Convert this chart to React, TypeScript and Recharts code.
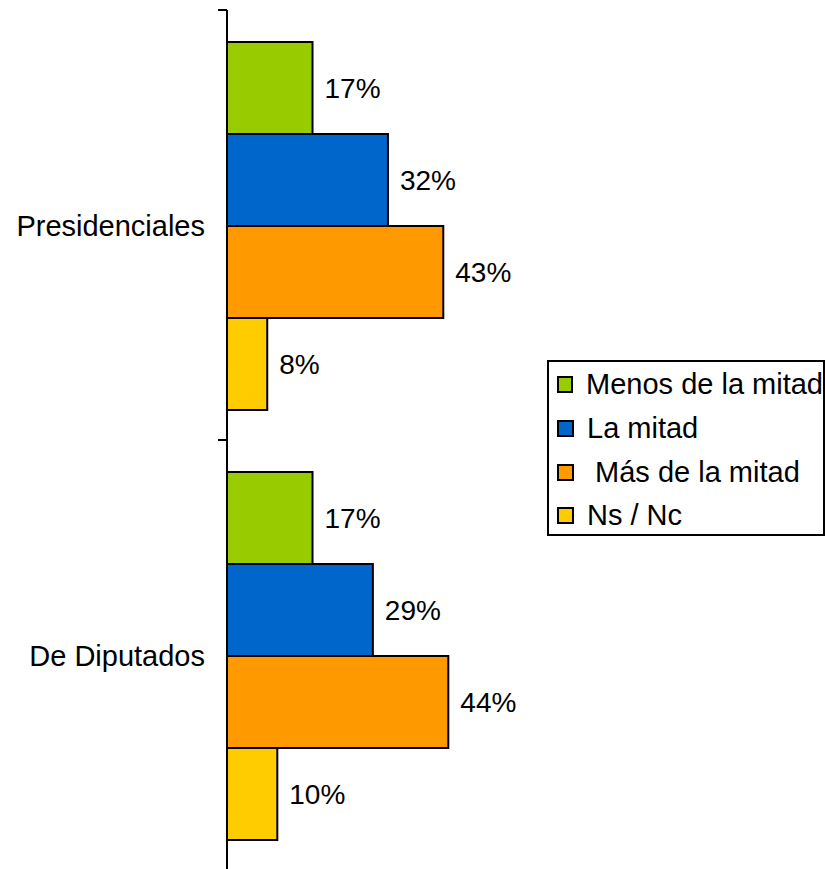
import React from 'react'
import { Bar, BarChart, LabelList, XAxis, YAxis } from 'recharts'

const categories = ['Presidenciales', 'De Diputados']
const menosDeLaMitad = [17, 17]
const laMitad = [32, 29]
const masDeLaMitad = [43, 44]
const nsNc = [8, 10]

const series = [
  { key: 'menos', name: 'Menos de la mitad', color: '#99CC00', values: menosDeLaMitad },
  { key: 'mitad', name: 'La mitad', color: '#0066CC', values: laMitad },
  { key: 'mas', name: ' Más de la mitad', color: '#FF9900', values: masDeLaMitad },
  { key: 'nsnc', name: 'Ns / Nc', color: '#FFCC00', values: nsNc },
]

const data = categories.map((name, i) => {
  const row: Record<string, string | number> = { name }
  series.forEach((s) => {
    row[s.key] = s.values[i]
  })
  return row
})

const FONT = '"Liberation Sans", Arial, sans-serif'
const TICK_MARGIN = 16
const TICK_SIZE = 6

const CategoryTick = (props: any) => {
  const { x, y, payload, index } = props
  const half = payload.offset || 0
  const axisX = x + TICK_MARGIN + TICK_SIZE
  return (
    <g>
      <text
        x={x}
        y={y + 1}
        textAnchor="end"
        dominantBaseline="central"
        fontSize={29}
        fontFamily={FONT}
        fill="#000"
      >
        {payload.value}
      </text>
      <line x1={axisX - 9} x2={axisX} y1={y - half} y2={y - half} stroke="#000" strokeWidth={2} />
      {index === categories.length - 1 && (
        <line x1={axisX - 9} x2={axisX} y1={y + half} y2={y + half} stroke="#000" strokeWidth={2} />
      )}
    </g>
  )
}

const LegendBox = () => (
  <div
    style={{
      position: 'absolute',
      left: 547,
      top: 360,
      width: 278,
      height: 176,
      border: '2px solid #000',
      background: '#fff',
      fontFamily: FONT,
      fontSize: 29,
      color: '#000',
      boxSizing: 'border-box',
      paddingTop: 1,
    }}
  >
    {series.map((s) => (
      <div
        key={s.key}
        style={{ display: 'flex', alignItems: 'center', height: 43.7, paddingLeft: 8, whiteSpace: 'pre' }}
      >
        <span
          style={{
            display: 'inline-block',
            width: 13,
            height: 13,
            background: s.color,
            border: '2px solid #000',
            marginRight: 13,
          }}
        />
        <span>{s.name}</span>
      </div>
    ))}
  </div>
)

export default function App() {
  return (
    <div style={{ position: 'absolute', left: 0, top: 0, width: 825, height: 869, overflow: 'hidden', background: '#fff' }}>
      <BarChart
        width={825}
        height={872}
        data={data}
        layout="vertical"
        barCategoryGap={32}
        barGap={0}
        margin={{ top: 10, right: 95, bottom: 2, left: 0 }}
      >
        <XAxis type="number" domain={[0, 100]} hide />
        <YAxis
          type="category"
          dataKey="name"
          width={227}
          axisLine={{ stroke: '#000', strokeWidth: 2 }}
          tickLine={false}
          tickSize={TICK_SIZE}
          tickMargin={TICK_MARGIN}
          tick={<CategoryTick />}
        />
        {series.map((s) => (
          <Bar
            key={s.key}
            dataKey={s.key}
            name={s.name}
            fill={s.color}
            stroke="#000"
            strokeWidth={2}
            isAnimationActive={false}
          >
            <LabelList
              dataKey={s.key}
              position="right"
              offset={12}
              formatter={(v: any) => `${v}%`}
              style={{ fontSize: 28, fontFamily: FONT, fill: '#000' }}
            />
          </Bar>
        ))}
      </BarChart>
      <LegendBox />
    </div>
  )
}
